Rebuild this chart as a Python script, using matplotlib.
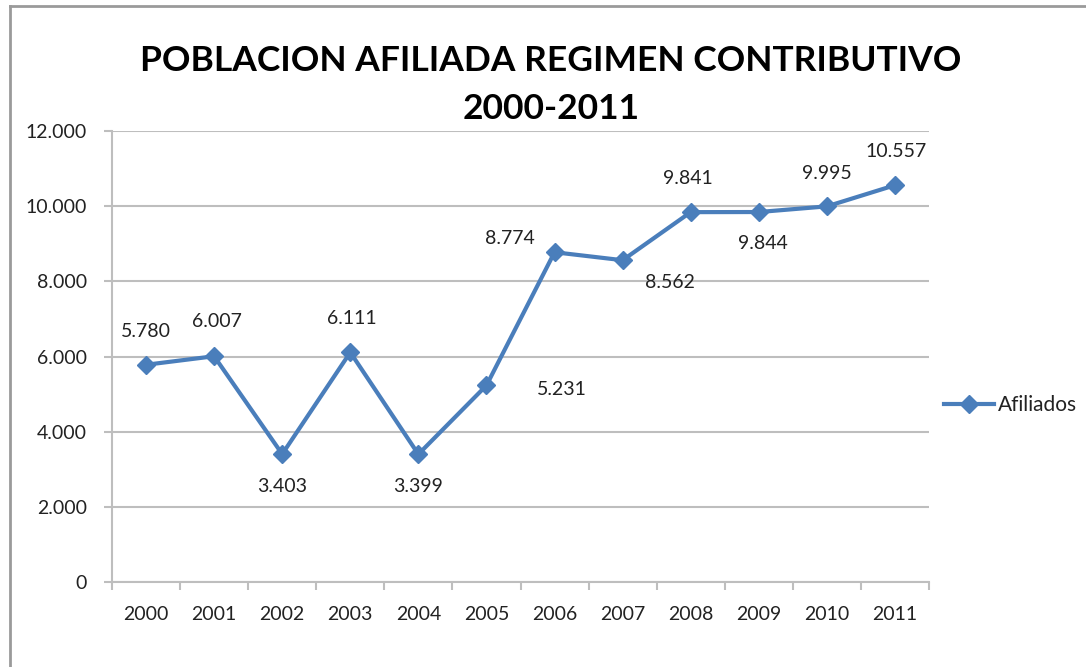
import matplotlib
matplotlib.use("Agg")
import matplotlib.pyplot as plt
from matplotlib.lines import Line2D

years = ["2000", "2001", "2002", "2003", "2004", "2005",
         "2006", "2007", "2008", "2009", "2010", "2011"]
afiliados = [5780, 6007, 3403, 6111, 3399, 5231,
             8774, 8562, 9841, 9844, 9995, 10557]
labels = ["5.780", "6.007", "3.403", "6.111", "3.399", "5.231",
          "8.774", "8.562", "9.841", "9.844", "9.995", "10.557"]
# label offsets in points (dx, dy)
offsets = [(0, 24), (2, 25), (0, -23), (1, 24), (0, -23), (54, -3),
           (-32, 10), (34, -16), (-2, 24), (3, -23), (0, 24), (1, 24)]
yticks = [0, 2000, 4000, 6000, 8000, 10000, 12000]
ytick_labels = ["0", "2.000", "4.000", "6.000", "8.000", "10.000", "12.000"]

plt.rcParams["font.family"] = ["Lato", "DejaVu Sans"]

blue = "#4A7EBB"
grid = "#BEBEBE"
txt = "#222222"

fig = plt.figure(figsize=(10.86, 6.67), dpi=100)
ax = fig.add_axes([112/1086, 1-582/667, (929-112)/1086, (582-131)/667])

x = list(range(len(years)))
ax.plot(x, afiliados, color=blue, lw=3, marker="D", ms=9,
        markerfacecolor=blue, markeredgecolor=blue, zorder=3)
for xi, yi, lab, (dx, dy) in zip(x, afiliados, labels, offsets):
    ax.annotate(lab, (xi, yi), xytext=(dx, dy), textcoords="offset points",
                ha="center", va="center", fontsize=14, color=txt)

ax.set_xlim(-0.5, len(years) - 0.5)
ax.set_ylim(0, 12000)
ax.set_yticks(yticks)
ax.set_yticklabels(ytick_labels, fontsize=14, color=txt)
ax.set_xticks(x)
ax.set_xticklabels(years, fontsize=14, color=txt)
ax.set_xticks([i - 0.5 for i in range(len(years) + 1)], minor=True)
ax.tick_params(axis="x", which="major", length=0, pad=17)
ax.tick_params(axis="x", which="minor", length=6, width=1.5, color=grid, direction="out")
ax.tick_params(axis="y", length=6, width=1.5, color=grid, pad=12)
ax.grid(axis="y", color=grid, lw=1.5)
ax.set_axisbelow(True)
for s in ["top", "right"]:
    ax.spines[s].set_visible(False)
for s in ["left", "bottom"]:
    ax.spines[s].set_color(grid)
    ax.spines[s].set_linewidth(1.5)

fig.text(551/1086, 1-61/667, "POBLACION AFILIADA REGIMEN CONTRIBUTIVO",
         ha="center", va="center", fontsize=25.5, fontweight="bold", color="black")
fig.text(551/1086, 1-109/667, "2000-2011",
         ha="center", va="center", fontsize=25.5, fontweight="bold", color="black")

handle = Line2D([], [], color=blue, lw=3, marker="D", ms=9)
fig.legend([handle], ["Afiliados"], loc="center left",
           bbox_to_anchor=(925/1086, 1-405/667), frameon=False,
           fontsize=15, handlelength=2.4, handletextpad=0.2,
           labelcolor=txt)

# outer frame (top and left edges visible)
fig.add_artist(Line2D([10/1086, 10/1086], [0, 1-6/667], color="#9A9A9A", lw=2,
                      transform=fig.transFigure))
fig.add_artist(Line2D([10/1086, 1], [1-6/667, 1-6/667], color="#9A9A9A", lw=2,
                      transform=fig.transFigure))

fig.savefig("out.png", dpi=100)
